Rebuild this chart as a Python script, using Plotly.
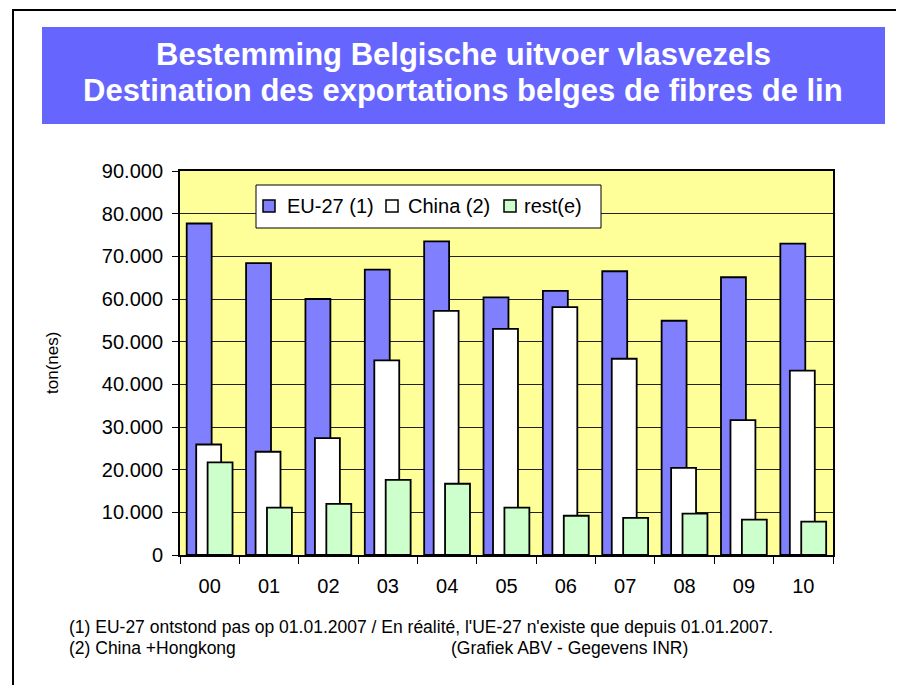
import plotly.graph_objects as go

years = ["00", "01", "02", "03", "04", "05", "06", "07", "08", "09", "10"]
eu27 = [77700, 68400, 60000, 66900, 73500, 60400, 61900, 66500, 54900, 65100, 73000]
china = [25900, 24200, 27400, 45600, 57200, 53000, 58100, 46000, 20400, 31600, 43200]
rest = [21700, 11100, 12000, 17600, 16700, 11100, 9200, 8700, 9700, 8300, 7800]
series_names = ["EU-27 (1)", "China (2)", "rest(e)"]
y_ticks = [0, 10000, 20000, 30000, 40000, 50000, 60000, 70000, 80000, 90000]

title1 = "Bestemming Belgische uitvoer vlasvezels"
title2 = "Destination des exportations belges de fibres de lin"
note1 = "(1) EU-27 ontstond pas op 01.01.2007 / En réalité, l'UE-27 n'existe que depuis 01.01.2007."
note2a = "(2) China +Hongkong"
note2b = "(Grafiek ABV - Gegevens INR)"

# page is offset by the 8px body margin
OFF = 8
W, H = 904 - 2 * OFF, 693 - 2 * OFF
PL, PR, PT, PB = 180, 833, 171, 555  # plot area in page pixels
FONT = "Liberation Sans, Arial, sans-serif"


def px(x):
    return (x - PL) / (PR - PL)


def py(y):
    return (PB - y) / (PB - PT)


fig = go.Figure()
colors = ["#8080FF", "#FFFFFF", "#CCFFCC"]
offsets = [-0.387, -0.227, -0.035]
for name, vals, col, off in zip(series_names, [eu27, china, rest], colors, offsets):
    fig.add_trace(go.Bar(
        x=years, y=vals, name=name, offset=off, width=0.42,
        marker=dict(color=col, line=dict(color="black", width=1.8)),
    ))

fig.update_layout(
    width=W, height=H, autosize=False,
    margin=dict(l=PL - OFF, r=(W + OFF) - PR, t=PT - OFF, b=(H + OFF) - PB, pad=0),
    paper_bgcolor="white", plot_bgcolor="#FFFF99",
    barmode="overlay", separators=",.",
    font=dict(family=FONT, color="black", size=20),
    showlegend=False,
)

fig.update_xaxes(
    type="category", tickson="boundaries", ticks="outside", ticklen=7,
    tickcolor="black", showline=True, linecolor="black", linewidth=2,
    mirror=True, showgrid=False, tickfont=dict(size=20), ticklabelstandoff=12,
    range=[-0.5, 10.5],
)
fig.update_yaxes(
    range=[0, 90000], tickvals=y_ticks, tickformat=",", ticks="outside",
    ticklen=6, tickcolor="black", showline=True, linecolor="black",
    linewidth=2, mirror=True, showgrid=True, gridcolor="#222222",
    gridwidth=1, tickfont=dict(size=20), ticklabelstandoff=5, zeroline=False,
)

# outer frame
fig.add_shape(type="rect", xref="paper", yref="paper",
              x0=px(13), x1=px(899), y0=py(686), y1=py(10),
              line=dict(color="black", width=2), fillcolor="rgba(0,0,0,0)", layer="below")
# title box
fig.add_shape(type="rect", xref="paper", yref="paper",
              x0=px(42), x1=px(885), y0=py(124), y1=py(27),
              line=dict(width=0), fillcolor="#6666FF", layer="below")

fig.add_annotation(text=f"<b>{title1}</b>", x=px(463), y=py(54), font=dict(size=31, color="white"))
fig.add_annotation(text=f"<b>{title2}</b>", x=px(463), y=py(90), font=dict(size=31, color="white"))
for a in fig.layout.annotations:
    a.update(xref="paper", yref="paper", xanchor="center", yanchor="middle", showarrow=False)

# legend box (drawn manually)
fig.add_shape(type="rect", xref="paper", yref="paper",
              x0=px(256), x1=px(601), y0=py(228), y1=py(185),
              line=dict(color="black", width=1), fillcolor="white", layer="above")
leg_marker_x = [263, 386, 504]
leg_text_x = [285, 406, 522]
for name, col, mx, tx in zip(series_names, colors, leg_marker_x, leg_text_x):
    fig.add_shape(type="rect", xref="paper", yref="paper",
                  x0=px(mx), x1=px(mx + 12), y0=py(212), y1=py(200),
                  line=dict(color="black", width=1.5), fillcolor=col, layer="above")
    fig.add_annotation(text=name, xref="paper", yref="paper", x=px(tx), y=py(206),
                       xanchor="left", yanchor="middle", showarrow=False,
                       font=dict(size=20))

fig.add_annotation(text="ton(nes)", xref="paper", yref="paper", x=px(52), y=py(363),
                   xanchor="center", yanchor="middle", textangle=-90, showarrow=False,
                   font=dict(size=17))
fig.add_annotation(text=note1, xref="paper", yref="paper", x=px(67), y=py(627),
                   xanchor="left", yanchor="middle", showarrow=False, font=dict(size=17.5))
fig.add_annotation(text=note2a, xref="paper", yref="paper", x=px(67), y=py(648),
                   xanchor="left", yanchor="middle", showarrow=False, font=dict(size=17.5))
fig.add_annotation(text=note2b, xref="paper", yref="paper", x=px(449), y=py(648),
                   xanchor="left", yanchor="middle", showarrow=False, font=dict(size=17.5))

fig.write_html("out.html")
